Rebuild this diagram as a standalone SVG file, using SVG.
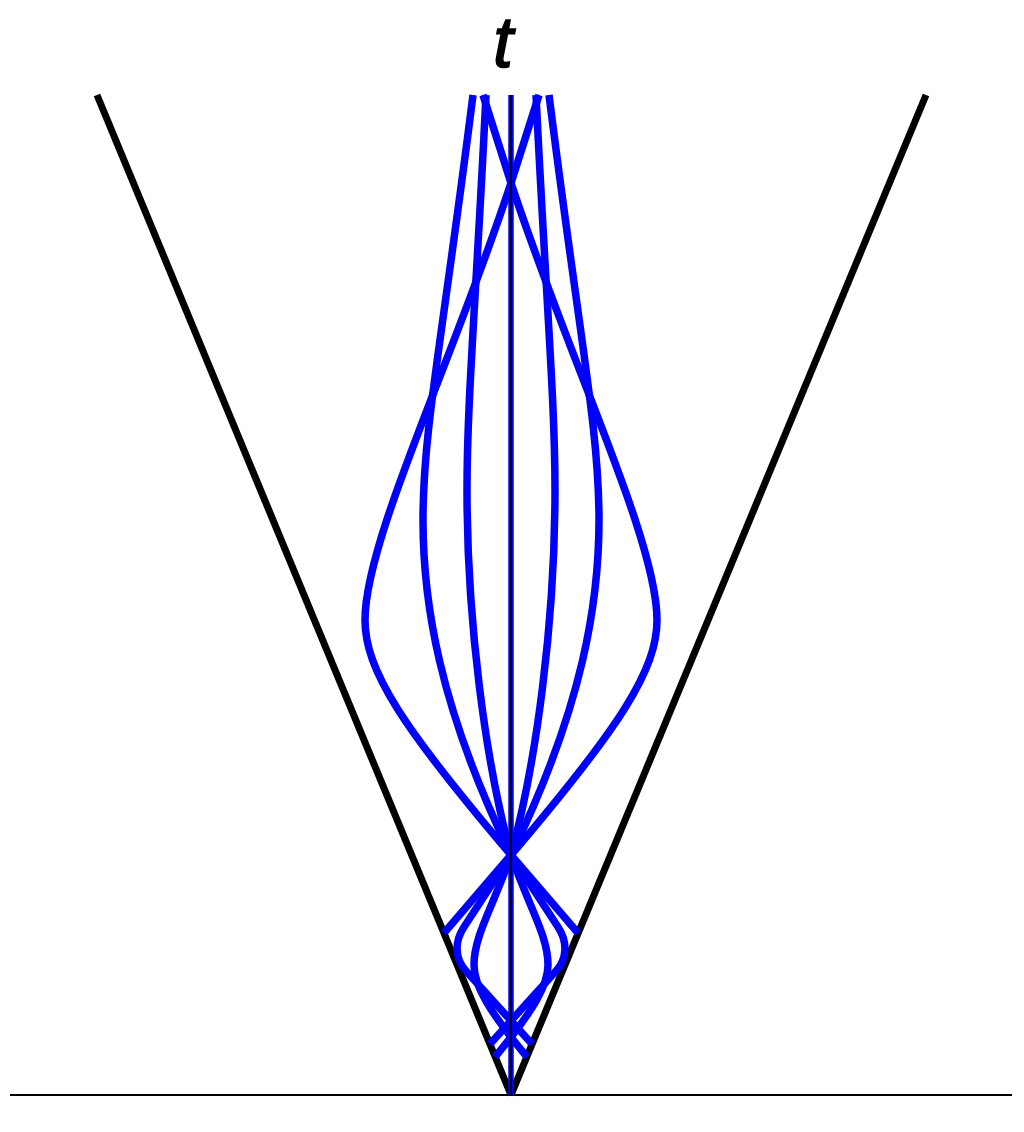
<svg xmlns="http://www.w3.org/2000/svg" width="1024" height="1132" viewBox="0 0 1024 1132">
<style>
.geo{fill:none;stroke:#0000FF;stroke-width:7.5;stroke-linejoin:round;stroke-linecap:butt}
.cone{fill:none;stroke:#000;stroke-width:7;stroke-linecap:butt}
.axis{fill:none;stroke:#000;stroke-width:1.8}
</style>
<rect x="0" y="0" width="1024" height="1132" fill="#fff"/>
<g id="axes">
<line class="axis" x1="10" y1="1095" x2="1012" y2="1095"/>
</g>
<g id="cone">
<line class="cone" x1="97" y1="95" x2="511" y2="1095"/>
<line class="cone" x1="926" y1="95" x2="511" y2="1095"/>
</g>
<g id="geodesics">
<path class="geo" d="M539,95 L511,183 C452,363 365,540 365,620 C365,670 402,727 511,855 L578,933"/>
<path class="geo" d="M483,95 L511,183 C570,363 657,540 657,620 C657,670 620,727 511,855 L444,933"/>
<path class="geo" d="M473,95 C441.5,345 423,430 423,520 C423,600 438,705 511,855"/>
<path class="geo" d="M549,95 C580.5,345 599,430 599,520 C599,600 584,705 511,855"/>
<path class="geo" d="M486,95 C476,300 467,400 467,490 C467,620 485,760 511,855"/>
<path class="geo" d="M536,95 C546,300 555,400 555,490 C555,620 537,760 511,855"/>
<path class="geo" d="M511,855 L464,927 C454.6,941.4 454.3,958 466,971 L532,1044"/>
<path class="geo" d="M511,855 L558,927 C567.4,941.4 567.7,958 556,971 L490,1044"/>
<path class="geo" d="M511,855 C494,905 474,935 474,965 C474,985 488,1010 527,1057"/>
<path class="geo" d="M511,855 C528,905 548,935 548,965 C548,985 534,1010 495,1057"/>
<line x1="511" y1="95" x2="511" y2="1095" stroke="#0000FF" stroke-width="5.5"/>
</g>
<g id="t-axis">
<line class="axis" x1="511" y1="95" x2="511" y2="1095"/>
<text x="503" y="67" font-family="Liberation Sans, Arial, sans-serif" font-style="italic" font-size="72" text-anchor="middle" fill="#000" stroke="#000" stroke-width="1.5">t</text>
</g>
</svg>
